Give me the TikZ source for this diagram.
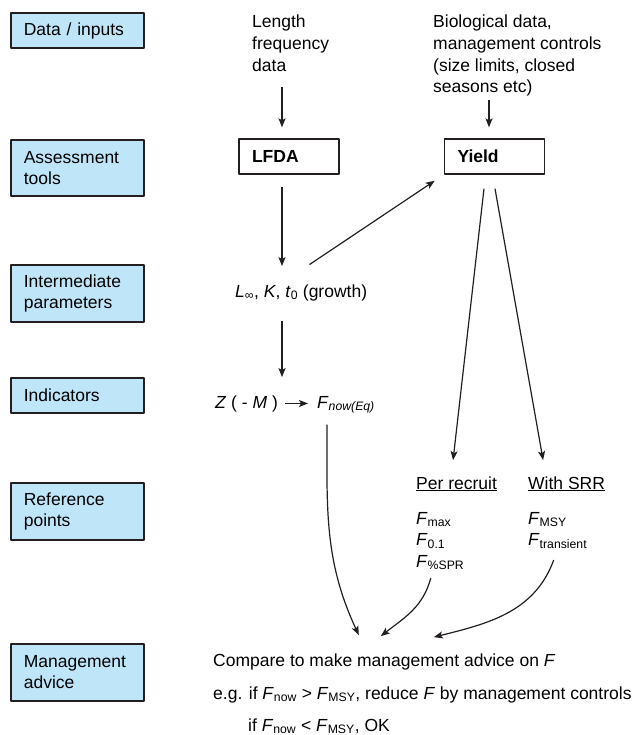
\documentclass[tikz,border=0pt]{standalone}
\usepackage{fontspec}
\setmainfont{Liberation Sans}
\usetikzlibrary{arrows.meta}
\usetikzlibrary{positioning}

\definecolor{levelblue}{RGB}{190,229,248}
\definecolor{inkgray}{RGB}{35,31,32}

\newcommand{\Fsub}[1]{\textit{F}\textsubscript{#1}}

\tikzset{
  level/.style={draw=inkgray, line width=1.6pt, fill=levelblue, anchor=west,
    minimum width=133pt, text width=107pt, inner xsep=13pt, align=left, minimum height=35pt},
  tool/.style={draw=inkgray, line width=1.3pt, minimum width=100pt, minimum height=35pt,
    text width=74pt, inner xsep=13pt, align=left, font=\fontsize{17.5}{21}\bfseries},
  txt/.style={inner sep=0pt, align=left},
  arr/.style={draw=inkgray, line width=1.2pt, -{Stealth[length=9pt,width=7pt,inset=2pt]}},
}

\begin{document}
\begin{tikzpicture}[x=1pt,y=-1pt,line join=round,font=\fontsize{17.5}{21}\selectfont]
\useasboundingbox (0,0) rectangle (641,735);

% levels down the left side
\node[level] (datain) at (10,30.5) {Data / inputs};
\node[level, minimum height=56pt] (asstools) at (10,168) {Assessment\\tools};
\node[level, minimum height=57pt] (interpar) at (10,293.5) {Intermediate\\parameters};
\node[level] (indic) at (10,395.5) {Indicators};
\node[level, minimum height=57pt] (refpts) at (10,511.5) {Reference\\points};
\node[level, minimum height=57pt] (mgmt) at (10,672.5) {Management\\advice};

\coordinate (lcol) at (282,0);
\coordinate (rcol) at (489,0);

% inputs and tools
\node[txt, anchor=north west, font=\fontsize{17.5}{22}\selectfont] (lfdata) at (252,15) {Length\\frequency\\data};
\node[txt, anchor=north west, font=\fontsize{17.5}{21.7}\selectfont] (biodata) at (433,15)
  {Biological data,\\management controls\\(size limits, closed\\seasons etc)};
\node[tool] (lfda) at (289,156.5) {LFDA};
\node[tool] (yield) at (494.5,156.5) {Yield};

% parameters and indicators
\node[txt, anchor=base west] (growth) at (235,297)
  {\textit{L}\textsubscript{∞}, \textit{K}, \textit{t}\textsubscript{0} (growth)};
\node[txt, anchor=base west] (zm) at (215,408) {\textit{Z} ( - \textit{M} )};
\node[txt, anchor=base west] (fnow) at (317,408) {\Fsub{\textit{now(Eq)}}};

% reference points
\node[txt, anchor=base west] (perrec) at (416,489) {\underline{Per recruit}};
\node[txt, anchor=base west] (withsrr) at (528,489) {\underline{With SRR}};
\node[txt, anchor=north west, font=\fontsize{17.5}{21.5}\selectfont] (perlist) at (416,512)
  {\Fsub{max}\\\Fsub{0.1}\\\Fsub{\%SPR}};
\node[txt, anchor=north west, font=\fontsize{17.5}{21.5}\selectfont] (srrlist) at (528,512)
  {\Fsub{MSY}\\\Fsub{transient}};

% advice
\node[txt, anchor=base west] (advice1) at (213,666) {Compare to make management advice on \textit{F}};
\node[txt, anchor=base west] (advice2) at (213,699)
  {e.g. if \Fsub{now} > \Fsub{MSY}, reduce \textit{F} by management controls};
\node[txt, anchor=base west] (advice3) at (248,731) {if \Fsub{now} < \Fsub{MSY}, OK};

% connectors
\draw[arr, shorten <=15pt, shorten >=11pt] (lcol |- lfdata.south) -- (lcol |- lfda.north);
\draw[arr, shorten <=3pt, shorten >=11pt] (rcol |- biodata.south) -- (rcol |- yield.north);
\draw[arr, shorten <=12pt, shorten >=18pt] (lcol |- lfda.south) -- (lcol |- growth.north);
\draw[arr, shorten <=10pt, shorten >=11pt] ([yshift=14pt]growth.north) -- (yield.south west);
\draw[arr, shorten <=20pt, shorten >=18pt] (lcol |- growth.south) -- (lcol |- zm.north);
\draw[arr, shorten <=7pt, shorten >=9pt] (zm.east) -- (zm.east -| fnow.west);
\draw[arr] ([xshift=-10.5pt,yshift=-14pt]yield.south) -- ([xshift=-3.5pt,yshift=16pt]perrec.north);
\draw[arr] ([xshift=0.5pt,yshift=-14pt]yield.south) -- ([xshift=-23.5pt,yshift=16pt]withsrr.north);
\draw[arr] ([xshift=-19pt,yshift=-11pt]fnow.south) to[out=-90,in=115] ([xshift=-25.5pt,yshift=18pt]advice1.north);
\draw[arr] ([xshift=-9.5pt,yshift=-8pt]perlist.south) to[out=255,in=38] ([xshift=-3.5pt,yshift=17pt]advice1.north);
\draw[arr] ([xshift=-4pt,yshift=-11pt]srrlist.south) to[out=250,in=14] ([xshift=49.5pt,yshift=16pt]advice1.north);
\end{tikzpicture}
\end{document}
